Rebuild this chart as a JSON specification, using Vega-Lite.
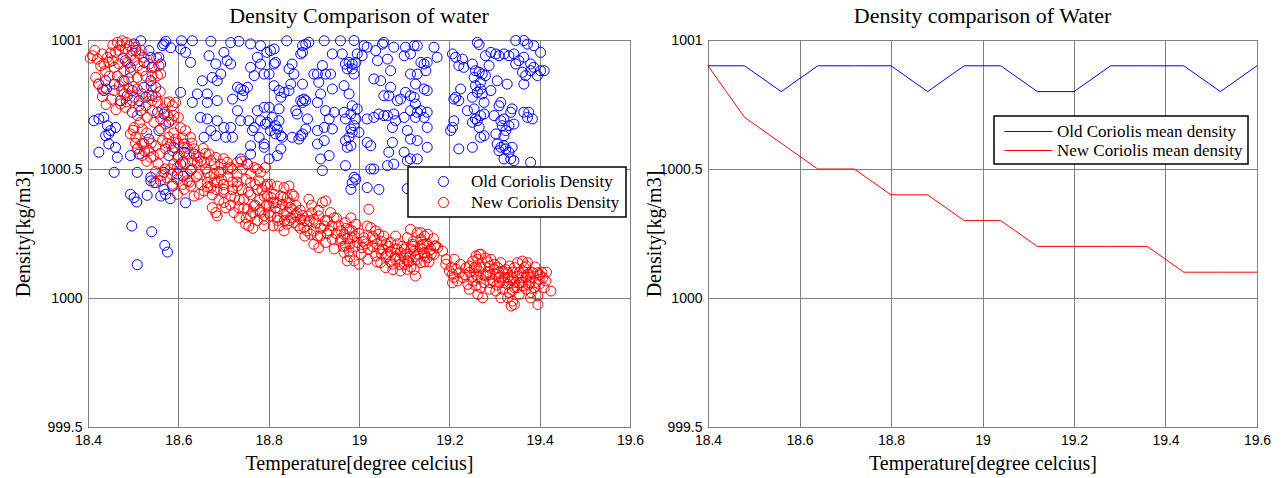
{
"$schema": "https://vega.github.io/schema/vega-lite/v6.json",
"background": "white",
"padding": {"left": 12, "top": 4, "right": 5, "bottom": 5},
"bounds": "flush",
"spacing": 78,
"resolve": {"scale": {"color": "independent"}, "legend": {"color": "independent"}},
"config": {
  "font": "Liberation Serif",
  "view": {"stroke": "black", "strokeWidth": 1},
  "axis": {"labelFont": "Liberation Sans", "labelFontSize": 14, "labelColor": "black", "titleFont": "Liberation Serif", "titleFontSize": 20, "titleFontWeight": "normal", "titleColor": "black", "gridColor": "#808080", "gridOpacity": 1, "gridWidth": 1, "domain": false, "ticks": false, "labelPadding": 6, "labelFlush": false, "labelOverlap": false},
  "title": {"font": "Liberation Serif", "fontSize": 22, "fontWeight": "normal", "color": "black", "frame": "group", "offset": 5, "anchor": "middle"},
  "legend": {"labelFont": "Liberation Serif", "labelFontSize": 17, "labelColor": "black", "labelLimit": 400, "strokeColor": "black", "strokeWidth": 1.5, "fillColor": "white", "title": null}
},
"datasets": {
"old": [
{"t":18.572,"d":1000.995},{"t":18.607,"d":1000.997},{"t":18.631,"d":1000.997},{"t":18.672,"d":1000.995},{"t":18.716,"d":1000.99},{"t":18.734,"d":1000.995},{"t":18.76,"d":1000.985},{"t":18.782,"d":1000.978},{"t":18.796,"d":1000.952},{"t":18.565,"d":1000.978},
{"t":18.568,"d":1000.985},{"t":18.583,"d":1000.97},{"t":18.605,"d":1000.965},{"t":18.616,"d":1000.952},{"t":18.627,"d":1000.913},{"t":18.535,"d":1000.959},{"t":18.539,"d":1000.933},{"t":18.557,"d":1000.933},{"t":18.542,"d":1000.894},{"t":18.561,"d":1000.907},
{"t":18.517,"d":1000.997},{"t":18.502,"d":1000.985},{"t":18.506,"d":1000.959},{"t":18.668,"d":1000.939},{"t":18.701,"d":1000.952},{"t":18.716,"d":1000.907},{"t":18.708,"d":1000.92},{"t":18.683,"d":1000.907},{"t":18.694,"d":1000.868},{"t":18.686,"d":1000.842},
{"t":18.675,"d":1000.855},{"t":18.653,"d":1000.842},{"t":18.664,"d":1000.791},{"t":18.731,"d":1000.817},{"t":18.738,"d":1000.81},{"t":18.745,"d":1000.804},{"t":18.742,"d":1000.784},{"t":18.753,"d":1000.817},{"t":18.76,"d":1000.894},{"t":18.775,"d":1000.933},
{"t":18.782,"d":1000.907},{"t":18.768,"d":1000.862},{"t":18.79,"d":1000.868},{"t":18.72,"d":1000.771},{"t":18.686,"d":1000.765},{"t":18.664,"d":1000.758},{"t":18.642,"d":1000.791},{"t":18.631,"d":1000.758},{"t":18.605,"d":1000.797},{"t":18.731,"d":1000.726},
{"t":18.738,"d":1000.687},{"t":18.775,"d":1000.726},{"t":18.782,"d":1000.687},{"t":18.756,"d":1000.687},{"t":18.768,"d":1000.661},{"t":18.793,"d":1000.674},{"t":18.764,"d":1000.649},{"t":18.779,"d":1000.623},{"t":18.79,"d":1000.597},{"t":18.649,"d":1000.7},
{"t":18.664,"d":1000.694},{"t":18.686,"d":1000.687},{"t":18.701,"d":1000.661},{"t":18.716,"d":1000.661},{"t":18.672,"d":1000.649},{"t":18.657,"d":1000.623},{"t":18.683,"d":1000.629},{"t":18.705,"d":1000.623},{"t":18.72,"d":1000.623},{"t":18.76,"d":1000.59},
{"t":18.76,"d":1000.558},{"t":18.79,"d":1000.584},{"t":18.738,"d":1000.539},{"t":18.753,"d":1000.519},{"t":18.413,"d":1000.687},{"t":18.424,"d":1000.694},{"t":18.435,"d":1000.7},{"t":18.443,"d":1000.668},{"t":18.45,"d":1000.649},{"t":18.461,"d":1000.661},
{"t":18.446,"d":1000.636},{"t":18.439,"d":1000.629},{"t":18.472,"d":1000.765},{"t":18.487,"d":1000.784},{"t":18.498,"d":1000.804},{"t":18.513,"d":1000.765},{"t":18.528,"d":1000.778},{"t":18.542,"d":1000.784},{"t":18.524,"d":1000.817},{"t":18.55,"d":1000.817},
{"t":18.424,"d":1000.565},{"t":18.446,"d":1000.597},{"t":18.461,"d":1000.584},{"t":18.465,"d":1000.545},{"t":18.494,"d":1000.552},{"t":18.513,"d":1000.558},{"t":18.435,"d":1000.804},{"t":18.458,"d":1000.829},{"t":18.439,"d":1000.842},{"t":18.48,"d":1000.842},
{"t":18.498,"d":1000.72},{"t":18.517,"d":1000.726},{"t":18.554,"d":1000.72},{"t":18.568,"d":1000.713},{"t":18.579,"d":1000.681},{"t":18.557,"d":1000.649},{"t":18.535,"d":1000.616},{"t":18.579,"d":1000.552},{"t":18.59,"d":1000.584},{"t":18.613,"d":1000.597},
{"t":18.613,"d":1000.565},{"t":18.635,"d":1000.558},{"t":18.605,"d":1000.519},{"t":18.627,"d":1000.494},{"t":18.611,"d":1000.472},{"t":18.458,"d":1000.487},{"t":18.509,"d":1000.487},{"t":18.539,"d":1000.468},{"t":18.568,"d":1000.487},{"t":18.598,"d":1000.481},
{"t":18.483,"d":1000.92},{"t":18.494,"d":1000.894},{"t":18.524,"d":1000.913},{"t":18.539,"d":1000.842},{"t":18.441,"d":1000.81},
{"t":18.494,"d":1000.402},{"t":18.502,"d":1000.389},{"t":18.508,"d":1000.372},{"t":18.531,"d":1000.398},{"t":18.561,"d":1000.395},{"t":18.572,"d":1000.402},{"t":18.582,"d":1000.385},{"t":18.616,"d":1000.369},{"t":18.568,"d":1000.421},{"t":18.55,"d":1000.447},
{"t":18.539,"d":1000.454},{"t":18.587,"d":1000.434},{"t":18.497,"d":1000.279},{"t":18.541,"d":1000.257},{"t":18.57,"d":1000.204},{"t":18.576,"d":1000.178},{"t":18.509,"d":1000.129},
{"t":18.84,"d":1000.997},{"t":18.875,"d":1000.978},{"t":18.882,"d":1000.984},{"t":18.889,"d":1000.991},{"t":18.923,"d":1000.997},{"t":18.959,"d":1000.997},{"t":18.989,"d":1000.998},{"t":19.011,"d":1000.978},{"t":19.018,"d":1000.972},{"t":19.052,"d":1000.984},
{"t":19.055,"d":1000.991},{"t":19.077,"d":1000.972},{"t":19.103,"d":1000.972},{"t":19.122,"d":1000.978},{"t":19.129,"d":1000.978},{"t":19.166,"d":1000.972},{"t":19.114,"d":1000.946},{"t":19.137,"d":1000.913},{"t":19.144,"d":1000.907},{"t":19.151,"d":1000.913},
{"t":19.173,"d":1000.933},{"t":19.148,"d":1000.881},{"t":19.129,"d":1000.868},{"t":18.804,"d":1000.959},{"t":18.812,"d":1000.965},{"t":18.871,"d":1000.946},{"t":18.875,"d":1000.952},{"t":18.941,"d":1000.946},{"t":18.963,"d":1000.946},{"t":18.996,"d":1000.946},
{"t":19.007,"d":1000.939},{"t":19.037,"d":1000.959},{"t":19.041,"d":1000.92},{"t":19.063,"d":1000.926},{"t":19.1,"d":1000.939},{"t":18.815,"d":1000.913},{"t":18.812,"d":1000.907},{"t":18.852,"d":1000.907},{"t":18.845,"d":1000.888},{"t":18.856,"d":1000.868},
{"t":18.801,"d":1000.868},{"t":18.875,"d":1000.829},{"t":18.919,"d":1000.901},{"t":18.908,"d":1000.868},{"t":18.926,"d":1000.868},{"t":18.937,"d":1000.868},{"t":18.911,"d":1000.836},{"t":18.9,"d":1000.868},{"t":18.97,"d":1000.907},{"t":18.978,"d":1000.913},
{"t":18.985,"d":1000.907},{"t":18.993,"d":1000.913},{"t":18.974,"d":1000.888},{"t":18.985,"d":1000.888},{"t":18.989,"d":1000.868},{"t":19.033,"d":1000.849},{"t":19.048,"d":1000.842},{"t":19.07,"d":1000.881},{"t":19.07,"d":1000.817},{"t":19.055,"d":1000.784},
{"t":19.066,"d":1000.784},{"t":19.085,"d":1000.765},{"t":19.092,"d":1000.771},{"t":19.103,"d":1000.797},{"t":18.967,"d":1000.823},{"t":18.941,"d":1000.81},{"t":18.978,"d":1000.791},{"t":18.915,"d":1000.791},{"t":18.908,"d":1000.758},{"t":18.878,"d":1000.771},
{"t":18.871,"d":1000.765},{"t":19.114,"d":1000.784},{"t":19.122,"d":1000.778},{"t":19.125,"d":1000.752},{"t":19.151,"d":1000.804},{"t":19.144,"d":1000.81},{"t":19.125,"d":1000.829},{"t":19.114,"d":1000.868},{"t":18.812,"d":1000.823},{"t":18.823,"d":1000.804},
{"t":18.834,"d":1000.797},{"t":18.845,"d":1000.804},{"t":18.849,"d":1000.829},{"t":18.827,"d":1000.778},{"t":18.875,"d":1000.758},{"t":18.882,"d":1000.765},{"t":18.86,"d":1000.726},{"t":18.863,"d":1000.713},{"t":18.886,"d":1000.694},{"t":18.926,"d":1000.726},
{"t":18.945,"d":1000.72},{"t":18.934,"d":1000.694},{"t":18.967,"d":1000.72},{"t":18.982,"d":1000.713},{"t":18.985,"d":1000.745},{"t":18.996,"d":1000.733},{"t":18.97,"d":1000.694},{"t":18.993,"d":1000.694},{"t":18.79,"d":1000.739},{"t":18.801,"d":1000.739},
{"t":18.823,"d":1000.733},{"t":18.808,"d":1000.7},{"t":18.797,"d":1000.681},{"t":18.815,"d":1000.668},{"t":18.823,"d":1000.687},{"t":18.819,"d":1000.655},{"t":18.804,"d":1000.649},{"t":18.815,"d":1000.636},{"t":18.827,"d":1000.629},{"t":18.83,"d":1000.623},
{"t":18.852,"d":1000.623},{"t":18.871,"d":1000.629},{"t":18.875,"d":1000.636},{"t":18.867,"d":1000.616},{"t":18.882,"d":1000.655},{"t":18.908,"d":1000.649},{"t":18.923,"d":1000.661},{"t":18.941,"d":1000.655},{"t":18.989,"d":1000.668},{"t":18.982,"d":1000.655},
{"t":18.985,"d":1000.642},{"t":18.978,"d":1000.623},{"t":18.97,"d":1000.61},{"t":18.982,"d":1000.59},{"t":18.974,"d":1000.584},{"t":19.0,"d":1000.642},{"t":19.018,"d":1000.694},{"t":19.033,"d":1000.7},{"t":19.044,"d":1000.713},{"t":19.055,"d":1000.707},
{"t":19.063,"d":1000.707},{"t":19.077,"d":1000.713},{"t":19.081,"d":1000.687},{"t":19.1,"d":1000.7},{"t":19.114,"d":1000.726},{"t":19.129,"d":1000.72},{"t":19.137,"d":1000.726},{"t":19.151,"d":1000.72},{"t":19.144,"d":1000.7},{"t":19.151,"d":1000.661},
{"t":19.125,"d":1000.7},{"t":18.908,"d":1000.597},{"t":18.923,"d":1000.61},{"t":19.018,"d":1000.603},{"t":19.026,"d":1000.59},{"t":19.074,"d":1000.661},{"t":19.074,"d":1000.603},{"t":19.107,"d":1000.649},{"t":19.114,"d":1000.616},{"t":19.129,"d":1000.61},
{"t":19.151,"d":1000.584},{"t":19.1,"d":1000.565},{"t":19.066,"d":1000.565},{"t":19.114,"d":1000.539},{"t":19.129,"d":1000.539},{"t":19.107,"d":1000.532},{"t":19.077,"d":1000.519},{"t":19.063,"d":1000.513},{"t":19.033,"d":1000.5},{"t":19.026,"d":1000.5},
{"t":18.97,"d":1000.513},{"t":18.989,"d":1000.468},{"t":18.919,"d":1000.494},{"t":18.915,"d":1000.539},{"t":18.934,"d":1000.552},{"t":18.827,"d":1000.578},{"t":18.819,"d":1000.552},{"t":18.801,"d":1000.539},
{"t":18.982,"d":1000.421},{"t":18.985,"d":1000.447},{"t":18.993,"d":1000.46},{"t":19.018,"d":1000.428},{"t":19.044,"d":1000.421},{"t":19.107,"d":1000.424},
{"t":19.262,"d":1000.991},{"t":19.266,"d":1000.982},{"t":19.347,"d":1000.998},{"t":19.365,"d":1000.998},{"t":19.373,"d":1000.984},{"t":19.387,"d":1000.978},{"t":19.402,"d":1000.952},{"t":19.207,"d":1000.946},{"t":19.214,"d":1000.933},{"t":19.229,"d":1000.926},
{"t":19.221,"d":1000.901},{"t":19.232,"d":1000.894},{"t":19.28,"d":1000.939},{"t":19.292,"d":1000.952},{"t":19.303,"d":1000.946},{"t":19.31,"d":1000.939},{"t":19.321,"d":1000.946},{"t":19.332,"d":1000.939},{"t":19.343,"d":1000.946},{"t":19.354,"d":1000.92},
{"t":19.347,"d":1000.907},{"t":19.365,"d":1000.933},{"t":19.38,"d":1000.907},{"t":19.387,"d":1000.894},{"t":19.402,"d":1000.881},{"t":19.41,"d":1000.881},{"t":19.395,"d":1000.862},{"t":19.251,"d":1000.907},{"t":19.258,"d":1000.881},{"t":19.266,"d":1000.875},
{"t":19.255,"d":1000.855},{"t":19.273,"d":1000.868},{"t":19.269,"d":1000.836},{"t":19.28,"d":1000.862},{"t":19.288,"d":1000.901},{"t":19.362,"d":1000.875},{"t":19.369,"d":1000.862},{"t":19.38,"d":1000.881},{"t":19.365,"d":1000.829},{"t":19.306,"d":1000.842},
{"t":19.328,"d":1000.829},{"t":19.225,"d":1000.81},{"t":19.214,"d":1000.778},{"t":19.221,"d":1000.765},{"t":19.21,"d":1000.771},{"t":19.258,"d":1000.823},{"t":19.269,"d":1000.81},{"t":19.262,"d":1000.797},{"t":19.273,"d":1000.791},{"t":19.277,"d":1000.758},
{"t":19.292,"d":1000.804},{"t":19.251,"d":1000.778},{"t":19.314,"d":1000.758},{"t":19.31,"d":1000.745},{"t":19.336,"d":1000.72},{"t":19.339,"d":1000.733},{"t":19.365,"d":1000.72},{"t":19.376,"d":1000.72},{"t":19.373,"d":1000.7},{"t":19.384,"d":1000.694},
{"t":19.24,"d":1000.726},{"t":19.255,"d":1000.733},{"t":19.258,"d":1000.694},{"t":19.269,"d":1000.707},{"t":19.277,"d":1000.713},{"t":19.262,"d":1000.687},{"t":19.251,"d":1000.681},{"t":19.266,"d":1000.661},{"t":19.269,"d":1000.623},{"t":19.277,"d":1000.629},
{"t":19.299,"d":1000.707},{"t":19.314,"d":1000.687},{"t":19.321,"d":1000.694},{"t":19.317,"d":1000.668},{"t":19.332,"d":1000.668},{"t":19.343,"d":1000.674},{"t":19.325,"d":1000.649},{"t":19.303,"d":1000.636},{"t":19.321,"d":1000.629},{"t":19.21,"d":1000.687},
{"t":19.207,"d":1000.661},{"t":19.203,"d":1000.649},{"t":19.221,"d":1000.578},{"t":19.251,"d":1000.584},{"t":19.306,"d":1000.597},{"t":19.314,"d":1000.584},{"t":19.31,"d":1000.571},{"t":19.325,"d":1000.578},{"t":19.332,"d":1000.565},{"t":19.339,"d":1000.584},
{"t":19.321,"d":1000.539},{"t":19.336,"d":1000.539},{"t":19.343,"d":1000.532},{"t":19.38,"d":1000.526},{"t":19.321,"d":1000.59}
],
"new": [
{"t":18.41,"d":1000.939},{"t":18.421,"d":1000.926},{"t":18.432,"d":1000.946},{"t":18.443,"d":1000.933},{"t":18.454,"d":1000.92},{"t":18.461,"d":1000.952},{"t":18.465,"d":1000.991},{"t":18.472,"d":1000.978},{"t":18.476,"d":1000.997},{"t":18.483,"d":1000.965},
{"t":18.491,"d":1000.978},{"t":18.498,"d":1000.959},{"t":18.506,"d":1000.972},{"t":18.513,"d":1000.946},{"t":18.502,"d":1000.92},{"t":18.487,"d":1000.913},{"t":18.469,"d":1000.907},{"t":18.458,"d":1000.894},{"t":18.446,"d":1000.913},{"t":18.435,"d":1000.907},
{"t":18.417,"d":1000.855},{"t":18.524,"d":1000.933},{"t":18.535,"d":1000.907},{"t":18.546,"d":1000.894},{"t":18.52,"d":1000.881},{"t":18.48,"d":1000.881},{"t":18.494,"d":1000.875},{"t":18.509,"d":1000.855},{"t":18.542,"d":1000.862},{"t":18.554,"d":1000.862},
{"t":18.561,"d":1000.868},{"t":18.424,"d":1000.829},{"t":18.432,"d":1000.81},{"t":18.476,"d":1000.842},{"t":18.458,"d":1000.804},{"t":18.469,"d":1000.823},{"t":18.48,"d":1000.791},{"t":18.491,"d":1000.81},{"t":18.509,"d":1000.81},{"t":18.52,"d":1000.791},
{"t":18.502,"d":1000.778},{"t":18.472,"d":1000.752},{"t":18.483,"d":1000.739},{"t":18.498,"d":1000.765},{"t":18.513,"d":1000.745},{"t":18.535,"d":1000.784},{"t":18.542,"d":1000.765},{"t":18.528,"d":1000.745},{"t":18.554,"d":1000.758},{"t":18.572,"d":1000.758},
{"t":18.587,"d":1000.745},{"t":18.594,"d":1000.758},{"t":18.565,"d":1000.733},{"t":18.542,"d":1000.726},{"t":18.531,"d":1000.7},{"t":18.546,"d":1000.681},{"t":18.561,"d":1000.694},{"t":18.576,"d":1000.707},{"t":18.59,"d":1000.707},{"t":18.572,"d":1000.674},
{"t":18.561,"d":1000.655},{"t":18.509,"d":1000.707},{"t":18.502,"d":1000.661},{"t":18.494,"d":1000.636},{"t":18.506,"d":1000.623},{"t":18.52,"d":1000.655},{"t":18.524,"d":1000.597},{"t":18.509,"d":1000.578},{"t":18.52,"d":1000.552},{"t":18.535,"d":1000.571},
{"t":18.539,"d":1000.545},{"t":18.55,"d":1000.59},{"t":18.565,"d":1000.61},{"t":18.579,"d":1000.623},{"t":18.583,"d":1000.597},{"t":18.594,"d":1000.616},{"t":18.572,"d":1000.578},{"t":18.587,"d":1000.571},{"t":18.598,"d":1000.545},{"t":18.616,"d":1000.649},
{"t":18.627,"d":1000.623},{"t":18.613,"d":1000.584},{"t":18.624,"d":1000.558},{"t":18.609,"d":1000.526},{"t":18.631,"d":1000.532},{"t":18.642,"d":1000.526},{"t":18.635,"d":1000.578},{"t":18.646,"d":1000.545},{"t":18.657,"d":1000.526},{"t":18.668,"d":1000.558},
{"t":18.672,"d":1000.532},{"t":18.683,"d":1000.545},{"t":18.694,"d":1000.519},{"t":18.708,"d":1000.526},{"t":18.716,"d":1000.506},{"t":18.731,"d":1000.526},{"t":18.742,"d":1000.5},{"t":18.753,"d":1000.519},{"t":18.768,"d":1000.506},{"t":18.775,"d":1000.5},
{"t":18.76,"d":1000.481},{"t":18.782,"d":1000.487},{"t":18.793,"d":1000.506},{"t":18.664,"d":1000.487},{"t":18.679,"d":1000.481},{"t":18.694,"d":1000.487},{"t":18.62,"d":1000.481},{"t":18.598,"d":1000.506},{"t":18.583,"d":1000.5},{"t":18.552,"d":1000.93},
{"t":18.557,"d":1000.9},{"t":18.423,"d":1000.83},{"t":18.432,"d":1000.78},{"t":18.44,"d":1000.75},{"t":18.447,"d":1000.86},{"t":18.452,"d":1000.77},{"t":18.462,"d":1000.73},{"t":18.505,"d":1000.6},{"t":18.51,"d":1000.58},{"t":18.52,"d":1000.6},
{"t":18.525,"d":1000.57},{"t":18.53,"d":1000.53},{"t":18.545,"d":1000.55},{"t":18.555,"d":1000.52},{"t":18.5,"d":1000.65},{"t":18.515,"d":1000.68},{"t":18.53,"d":1000.64},{"t":18.563,"d":1000.475},{"t":18.575,"d":1000.465},{"t":18.585,"d":1000.48},
{"t":18.546,"d":1000.447},{"t":18.561,"d":1000.454},{"t":18.587,"d":1000.441},{"t":18.598,"d":1000.402},{"t":18.613,"d":1000.421},{"t":18.627,"d":1000.434},{"t":18.635,"d":1000.395},{"t":18.646,"d":1000.402},{"t":18.657,"d":1000.415},{"t":18.664,"d":1000.447},
{"t":18.672,"d":1000.428},{"t":18.675,"d":1000.35},{"t":18.683,"d":1000.331},{"t":18.686,"d":1000.318},{"t":18.701,"d":1000.37},{"t":18.716,"d":1000.395},{"t":18.723,"d":1000.331},{"t":18.734,"d":1000.35},{"t":18.745,"d":1000.383},{"t":18.753,"d":1000.344},
{"t":18.76,"d":1000.318},{"t":18.768,"d":1000.357},{"t":18.782,"d":1000.331},{"t":18.79,"d":1000.305},{"t":18.749,"d":1000.286},{"t":18.756,"d":1000.279},{"t":18.775,"d":1000.421},{"t":18.79,"d":1000.395},{"t":18.686,"d":1000.447},{"t":18.701,"d":1000.421},
{"t":18.731,"d":1000.434},{"t":18.76,"d":1000.447},{"t":18.779,"d":1000.454},{"t":18.797,"d":1000.441},{"t":18.598,"d":1000.46},{"t":18.62,"d":1000.454},
{"t":18.66,"d":1000.5},{"t":18.67,"d":1000.47},{"t":18.68,"d":1000.45},{"t":18.69,"d":1000.49},{"t":18.7,"d":1000.44},{"t":18.71,"d":1000.47},{"t":18.72,"d":1000.45},{"t":18.73,"d":1000.48},{"t":18.74,"d":1000.42},{"t":18.75,"d":1000.46},
{"t":18.76,"d":1000.4},{"t":18.77,"d":1000.44},{"t":18.78,"d":1000.38},{"t":18.785,"d":1000.42},{"t":18.795,"d":1000.36},{"t":18.7,"d":1000.41},{"t":18.715,"d":1000.36},{"t":18.725,"d":1000.39},{"t":18.745,"d":1000.35},{"t":18.765,"d":1000.33},
{"t":18.775,"d":1000.3},{"t":18.66,"d":1000.56},{"t":18.68,"d":1000.52},{"t":18.7,"d":1000.54},{"t":18.72,"d":1000.5},{"t":18.74,"d":1000.53},{"t":18.645,"d":1000.48},{"t":18.65,"d":1000.44},
{"t":18.793,"d":1000.434},{"t":18.804,"d":1000.441},{"t":18.819,"d":1000.434},{"t":18.834,"d":1000.428},{"t":18.845,"d":1000.434},{"t":18.797,"d":1000.395},{"t":18.812,"d":1000.402},{"t":18.827,"d":1000.395},{"t":18.841,"d":1000.389},{"t":18.856,"d":1000.395},
{"t":18.801,"d":1000.357},{"t":18.815,"d":1000.35},{"t":18.83,"d":1000.363},{"t":18.845,"d":1000.37},{"t":18.852,"d":1000.344},{"t":18.804,"d":1000.318},{"t":18.819,"d":1000.311},{"t":18.834,"d":1000.324},{"t":18.849,"d":1000.311},{"t":18.863,"d":1000.331},
{"t":18.823,"d":1000.279},{"t":18.834,"d":1000.26},{"t":18.841,"d":1000.286},{"t":18.856,"d":1000.292},{"t":18.871,"d":1000.305},{"t":18.886,"d":1000.318},{"t":18.889,"d":1000.383},{"t":18.852,"d":1000.402},{"t":18.9,"d":1000.305},{"t":18.911,"d":1000.318},
{"t":18.919,"d":1000.37},{"t":18.926,"d":1000.376},{"t":18.937,"d":1000.331},{"t":18.945,"d":1000.311},{"t":18.923,"d":1000.279},{"t":18.934,"d":1000.26},{"t":18.941,"d":1000.228},{"t":18.9,"d":1000.208},{"t":18.911,"d":1000.195},{"t":18.926,"d":1000.215},
{"t":18.893,"d":1000.247},{"t":18.878,"d":1000.273},{"t":18.908,"d":1000.24},{"t":18.97,"d":1000.292},{"t":18.982,"d":1000.311},{"t":18.993,"d":1000.286},{"t":18.978,"d":1000.266},{"t":18.967,"d":1000.247},{"t":18.985,"d":1000.234},{"t":18.996,"d":1000.215},
{"t":18.97,"d":1000.202},{"t":18.978,"d":1000.182},{"t":18.967,"d":1000.176},{"t":18.974,"d":1000.144},{"t":18.989,"d":1000.144},{"t":19.0,"d":1000.131},{"t":18.959,"d":1000.221},{"t":19.011,"d":1000.234},{"t":19.007,"d":1000.195},{"t":19.018,"d":1000.279},
{"t":19.026,"d":1000.273},{"t":19.022,"d":1000.344},{"t":19.037,"d":1000.26},{"t":19.044,"d":1000.247},{"t":19.055,"d":1000.24},{"t":19.07,"d":1000.215},{"t":19.081,"d":1000.24},{"t":19.037,"d":1000.163},{"t":19.052,"d":1000.189},{"t":19.063,"d":1000.169},
{"t":19.048,"d":1000.137},{"t":19.059,"d":1000.118},{"t":19.074,"d":1000.131},{"t":19.081,"d":1000.15},{"t":19.085,"d":1000.189},{"t":19.092,"d":1000.176},{"t":19.1,"d":1000.156},{"t":19.107,"d":1000.144},{"t":19.114,"d":1000.163},{"t":19.122,"d":1000.182},
{"t":19.129,"d":1000.15},{"t":19.137,"d":1000.137},{"t":19.144,"d":1000.176},{"t":19.151,"d":1000.156},{"t":19.159,"d":1000.189},{"t":19.166,"d":1000.169},{"t":19.17,"d":1000.202},{"t":19.122,"d":1000.111},{"t":19.125,"d":1000.085},{"t":19.107,"d":1000.111},
{"t":19.092,"d":1000.105},{"t":19.114,"d":1000.266},{"t":19.129,"d":1000.253},{"t":19.107,"d":1000.234},{"t":19.137,"d":1000.228},{"t":19.144,"d":1000.208},{"t":19.118,"d":1000.208},{"t":19.192,"d":1000.131},
{"t":18.81,"d":1000.37},{"t":18.825,"d":1000.345},{"t":18.84,"d":1000.33},{"t":18.86,"d":1000.36},{"t":18.87,"d":1000.34},{"t":18.88,"d":1000.3},{"t":18.895,"d":1000.33},{"t":18.865,"d":1000.28},{"t":18.845,"d":1000.3},{"t":18.82,"d":1000.3},
{"t":18.8,"d":1000.33},{"t":18.885,"d":1000.26},{"t":18.905,"d":1000.29},{"t":18.915,"d":1000.27},{"t":18.93,"d":1000.3},{"t":18.95,"d":1000.25},{"t":18.955,"d":1000.28},
{"t":18.96,"d":1000.26},{"t":18.975,"d":1000.23},{"t":18.985,"d":1000.26},{"t":18.99,"d":1000.2},{"t":19.0,"d":1000.25},{"t":19.005,"d":1000.17},{"t":19.015,"d":1000.21},{"t":19.03,"d":1000.2},{"t":19.035,"d":1000.23},{"t":19.045,"d":1000.19},
{"t":18.965,"d":1000.2},{"t":18.98,"d":1000.16},{"t":19.02,"d":1000.15},{"t":19.06,"d":1000.16},{"t":19.07,"d":1000.18},{"t":19.08,"d":1000.16},{"t":19.09,"d":1000.15},{"t":19.1,"d":1000.19},{"t":19.11,"d":1000.14},{"t":19.12,"d":1000.2},
{"t":19.13,"d":1000.17},{"t":19.14,"d":1000.19},{"t":19.15,"d":1000.21},{"t":19.155,"d":1000.14},{"t":19.1,"d":1000.13},{"t":19.085,"d":1000.21},{"t":19.065,"d":1000.2},{"t":19.12,"d":1000.22},
{"t":19.137,"d":1000.253},{"t":19.145,"d":1000.24},{"t":19.152,"d":1000.247},{"t":19.141,"d":1000.208},{"t":19.156,"d":1000.182},{"t":19.145,"d":1000.163},{"t":19.167,"d":1000.202},{"t":19.174,"d":1000.195},{"t":19.185,"d":1000.182},{"t":19.193,"d":1000.15},
{"t":19.211,"d":1000.15},{"t":19.2,"d":1000.105},{"t":19.207,"d":1000.092},{"t":19.215,"d":1000.111},{"t":19.222,"d":1000.098},{"t":19.23,"d":1000.079},{"t":19.218,"d":1000.066},{"t":19.207,"d":1000.059},{"t":19.237,"d":1000.118},{"t":19.244,"d":1000.124},
{"t":19.252,"d":1000.143},{"t":19.259,"d":1000.163},{"t":19.263,"d":1000.15},{"t":19.266,"d":1000.169},{"t":19.255,"d":1000.118},{"t":19.266,"d":1000.105},{"t":19.263,"d":1000.079},{"t":19.252,"d":1000.066},{"t":19.241,"d":1000.053},{"t":19.244,"d":1000.034},
{"t":19.259,"d":1000.047},{"t":19.27,"d":1000.04},{"t":19.277,"d":1000.059},{"t":19.281,"d":1000.085},{"t":19.289,"d":1000.124},{"t":19.292,"d":1000.15},{"t":19.3,"d":1000.131},{"t":19.307,"d":1000.118},{"t":19.314,"d":1000.137},{"t":19.318,"d":1000.105},
{"t":19.303,"d":1000.092},{"t":19.296,"d":1000.066},{"t":19.311,"d":1000.059},{"t":19.322,"d":1000.079},{"t":19.329,"d":1000.098},{"t":19.333,"d":1000.124},{"t":19.344,"d":1000.118},{"t":19.351,"d":1000.137},{"t":19.362,"d":1000.143},{"t":19.37,"d":1000.124},
{"t":19.355,"d":1000.098},{"t":19.34,"d":1000.079},{"t":19.329,"d":1000.053},{"t":19.318,"d":1000.034},{"t":19.333,"d":1000.021},{"t":19.344,"d":1000.04},{"t":19.355,"d":1000.059},{"t":19.362,"d":1000.079},{"t":19.373,"d":1000.092},{"t":19.385,"d":1000.098},
{"t":19.396,"d":1000.098},{"t":19.407,"d":1000.079},{"t":19.414,"d":1000.066},{"t":19.425,"d":1000.027},{"t":19.399,"d":1000.053},{"t":19.388,"d":1000.04},{"t":19.377,"d":1000.059},{"t":19.37,"d":1000.034},{"t":19.355,"d":1000.014},{"t":19.34,"d":999.988},
{"t":19.329,"d":1000.001},{"t":19.337,"d":999.969},{"t":19.344,"d":999.975},{"t":19.396,"d":999.975},{"t":19.303,"d":1000.027},{"t":19.289,"d":1000.034},{"t":19.274,"d":1000.001},{"t":19.263,"d":1000.014},{"t":19.314,"d":1000.001},{"t":19.373,"d":1000.137},
{"t":19.366,"d":1000.118},{"t":19.399,"d":1000.072},{"t":19.381,"d":1000.021},{"t":19.396,"d":1000.008},{"t":19.362,"d":1000.047},
{"t":19.27,"d":1000.12},{"t":19.285,"d":1000.1},{"t":19.31,"d":1000.08},{"t":19.335,"d":1000.07},{"t":19.35,"d":1000.085},{"t":19.365,"d":1000.1},{"t":19.38,"d":1000.08},{"t":19.39,"d":1000.12},{"t":19.26,"d":1000.09},{"t":19.245,"d":1000.1},
{"t":19.29,"d":1000.06},{"t":19.325,"d":1000.11},{"t":19.345,"d":1000.06},{"t":19.375,"d":1000.05},{"t":19.405,"d":1000.1},{"t":19.27,"d":1000.17},{"t":19.28,"d":1000.155},
{"t":18.405,"d":1000.93},{"t":18.415,"d":1000.96},{"t":18.428,"d":1000.9},{"t":18.438,"d":1000.88},{"t":18.45,"d":1000.95},{"t":18.455,"d":1000.98},{"t":18.468,"d":1000.96},{"t":18.478,"d":1000.93},{"t":18.485,"d":1000.99},{"t":18.495,"d":1000.94},
{"t":18.49,"d":1000.85},{"t":18.475,"d":1000.8},{"t":18.465,"d":1000.86},{"t":18.485,"d":1000.76},{"t":18.5,"d":1000.82},{"t":18.51,"d":1000.9},{"t":18.518,"d":1000.96},{"t":18.528,"d":1000.86},{"t":18.54,"d":1000.82},{"t":18.55,"d":1000.78},
{"t":18.56,"d":1000.8},{"t":18.57,"d":1000.72},{"t":18.58,"d":1000.76},{"t":18.585,"d":1000.69},{"t":18.6,"d":1000.7},{"t":18.605,"d":1000.66},{"t":18.6,"d":1000.6},{"t":18.61,"d":1000.62},{"t":18.62,"d":1000.58},{"t":18.63,"d":1000.6},
{"t":18.64,"d":1000.55},{"t":18.65,"d":1000.53},{"t":18.655,"d":1000.58},{"t":18.63,"d":1000.5},{"t":18.64,"d":1000.47},{"t":18.625,"d":1000.45},{"t":18.61,"d":1000.44},{"t":18.59,"d":1000.52},{"t":18.57,"d":1000.5},{"t":18.55,"d":1000.49},
{"t":18.54,"d":1000.6},{"t":18.56,"d":1000.56},{"t":18.575,"d":1000.6},{"t":18.59,"d":1000.64},{"t":18.6,"d":1000.55},{"t":18.615,"d":1000.52},
{"t":18.675,"d":1000.4},{"t":18.69,"d":1000.38},{"t":18.705,"d":1000.35},{"t":18.72,"d":1000.42},{"t":18.735,"d":1000.38},{"t":18.75,"d":1000.31},{"t":18.755,"d":1000.41},{"t":18.77,"d":1000.36},{"t":18.78,"d":1000.34},{"t":18.79,"d":1000.32},
{"t":18.71,"d":1000.5},{"t":18.73,"d":1000.45},{"t":18.685,"d":1000.42},{"t":18.665,"d":1000.43},{"t":18.695,"d":1000.46},{"t":18.735,"d":1000.31},{"t":18.765,"d":1000.27},{"t":18.79,"d":1000.28},
{"t":18.805,"d":1000.39},{"t":18.818,"d":1000.37},{"t":18.832,"d":1000.39},{"t":18.848,"d":1000.35},{"t":18.86,"d":1000.32},{"t":18.875,"d":1000.32},{"t":18.89,"d":1000.3},{"t":18.9,"d":1000.26},{"t":18.915,"d":1000.24},{"t":18.925,"d":1000.3},
{"t":18.94,"d":1000.28},{"t":18.95,"d":1000.31},{"t":18.96,"d":1000.23},{"t":18.972,"d":1000.27},{"t":18.98,"d":1000.21},{"t":18.99,"d":1000.24},{"t":18.88,"d":1000.24},{"t":18.87,"d":1000.27},{"t":18.835,"d":1000.3},{"t":18.81,"d":1000.28},
{"t":18.895,"d":1000.36},{"t":18.91,"d":1000.34},{"t":18.93,"d":1000.25},{"t":18.945,"d":1000.19},
{"t":19.01,"d":1000.22},{"t":19.02,"d":1000.19},{"t":19.03,"d":1000.24},{"t":19.04,"d":1000.21},{"t":19.05,"d":1000.17},{"t":19.06,"d":1000.21},{"t":19.07,"d":1000.14},{"t":19.08,"d":1000.19},{"t":19.09,"d":1000.13},{"t":19.095,"d":1000.2},
{"t":19.105,"d":1000.17},{"t":19.115,"d":1000.19},{"t":19.125,"d":1000.16},{"t":19.135,"d":1000.2},{"t":19.145,"d":1000.14},{"t":19.16,"d":1000.17},{"t":19.165,"d":1000.23},{"t":19.075,"d":1000.11},{"t":19.115,"d":1000.12},{"t":19.05,"d":1000.22},
{"t":19.04,"d":1000.14},
{"t":19.205,"d":1000.12},{"t":19.21,"d":1000.08},{"t":19.225,"d":1000.13},{"t":19.235,"d":1000.09},{"t":19.25,"d":1000.08},{"t":19.26,"d":1000.12},{"t":19.275,"d":1000.09},{"t":19.29,"d":1000.09},{"t":19.3,"d":1000.11},{"t":19.31,"d":1000.1},
{"t":19.32,"d":1000.06},{"t":19.33,"d":1000.08},{"t":19.34,"d":1000.1},{"t":19.35,"d":1000.04},{"t":19.36,"d":1000.06},{"t":19.37,"d":1000.08},{"t":19.38,"d":1000.1},{"t":19.39,"d":1000.06},{"t":19.4,"d":1000.09},{"t":19.41,"d":1000.04},
{"t":19.415,"d":1000.1},{"t":19.305,"d":1000.05},{"t":19.285,"d":1000.14},{"t":19.34,"d":1000.03},{"t":19.38,"d":1000.0}
],
"means": [
{"t":18.4,"d":1000.9,"s":"Old Coriolis mean density"},{"t":18.48,"d":1000.9,"s":"Old Coriolis mean density"},{"t":18.56,"d":1000.8,"s":"Old Coriolis mean density"},{"t":18.64,"d":1000.9,"s":"Old Coriolis mean density"},
{"t":18.72,"d":1000.9,"s":"Old Coriolis mean density"},{"t":18.8,"d":1000.9,"s":"Old Coriolis mean density"},{"t":18.88,"d":1000.8,"s":"Old Coriolis mean density"},{"t":18.96,"d":1000.9,"s":"Old Coriolis mean density"},
{"t":19.04,"d":1000.9,"s":"Old Coriolis mean density"},{"t":19.12,"d":1000.8,"s":"Old Coriolis mean density"},{"t":19.2,"d":1000.8,"s":"Old Coriolis mean density"},{"t":19.28,"d":1000.9,"s":"Old Coriolis mean density"},
{"t":19.36,"d":1000.9,"s":"Old Coriolis mean density"},{"t":19.44,"d":1000.9,"s":"Old Coriolis mean density"},{"t":19.52,"d":1000.8,"s":"Old Coriolis mean density"},{"t":19.6,"d":1000.9,"s":"Old Coriolis mean density"},
{"t":18.4,"d":1000.9,"s":"New Coriolis mean density"},{"t":18.48,"d":1000.7,"s":"New Coriolis mean density"},{"t":18.56,"d":1000.6,"s":"New Coriolis mean density"},{"t":18.64,"d":1000.5,"s":"New Coriolis mean density"},
{"t":18.72,"d":1000.5,"s":"New Coriolis mean density"},{"t":18.8,"d":1000.4,"s":"New Coriolis mean density"},{"t":18.88,"d":1000.4,"s":"New Coriolis mean density"},{"t":18.96,"d":1000.3,"s":"New Coriolis mean density"},
{"t":19.04,"d":1000.3,"s":"New Coriolis mean density"},{"t":19.12,"d":1000.2,"s":"New Coriolis mean density"},{"t":19.2,"d":1000.2,"s":"New Coriolis mean density"},{"t":19.28,"d":1000.2,"s":"New Coriolis mean density"},
{"t":19.36,"d":1000.2,"s":"New Coriolis mean density"},{"t":19.44,"d":1000.1,"s":"New Coriolis mean density"},{"t":19.52,"d":1000.1,"s":"New Coriolis mean density"},{"t":19.6,"d":1000.1,"s":"New Coriolis mean density"}
]
},
"hconcat": [
{
  "width": 542, "height": 387,
  "title": {"text": "Density Comparison of water"},
  "layer": [
    {"data": {"name": "old"},
     "mark": {"type": "point", "filled": false, "size": 100, "strokeWidth": 1, "opacity": 1},
     "encoding": {
       "x": {"field": "t", "type": "quantitative", "scale": {"domain": [18.4, 19.6], "nice": false, "zero": false}, "axis": {"values": [18.4, 18.6, 18.8, 19, 19.2, 19.4, 19.6], "format": "~r", "titlePadding": 6}, "title": "Temperature[degree celcius]"},
       "y": {"field": "d", "type": "quantitative", "scale": {"domain": [999.5, 1001], "nice": false, "zero": false}, "axis": {"values": [999.5, 1000, 1000.5, 1001], "format": "~r", "titlePadding": 6}, "title": "Density[kg/m3]"},
       "color": {"datum": "Old Coriolis Density", "type": "nominal", "scale": {"domain": ["Old Coriolis Density", "New Coriolis Density"], "range": ["#0000ff", "#ff0000"]},
                 "legend": {"orient": "none", "legendX": 320, "legendY": 127, "padding": 6, "rowPadding": 3, "symbolSize": 100, "symbolStrokeWidth": 1, "symbolOffset": 21, "labelOffset": 19, "symbolType": "circle"}}
     }},
    {"data": {"name": "new"},
     "mark": {"type": "point", "filled": false, "size": 100, "strokeWidth": 1, "opacity": 1},
     "encoding": {
       "x": {"field": "t", "type": "quantitative"},
       "y": {"field": "d", "type": "quantitative"},
       "color": {"datum": "New Coriolis Density", "type": "nominal"}
     }}
  ]
},
{
  "width": 549, "height": 387,
  "title": {"text": "Density comparison of Water"},
  "data": {"name": "means"},
  "mark": {"type": "line", "strokeWidth": 1},
  "encoding": {
    "x": {"field": "t", "type": "quantitative", "scale": {"domain": [18.4, 19.6], "nice": false, "zero": false}, "axis": {"values": [18.4, 18.6, 18.8, 19, 19.2, 19.4, 19.6], "format": "~r", "titlePadding": 6}, "title": "Temperature[degree celcius]"},
    "y": {"field": "d", "type": "quantitative", "scale": {"domain": [999.5, 1001], "nice": false, "zero": false}, "axis": {"values": [999.5, 1000, 1000.5, 1001], "format": "~r", "titlePadding": -5}, "title": "Density[kg/m3]"},
    "color": {"field": "s", "type": "nominal", "scale": {"domain": ["Old Coriolis mean density", "New Coriolis mean density"], "range": ["#0000ff", "#ff0000"]},
              "legend": {"orient": "none", "legendX": 286, "legendY": 76, "padding": 5, "rowPadding": 0, "symbolType": "M-2.4,0L2.4,0", "symbolSize": 400, "symbolStrokeWidth": 1, "symbolOffset": 19, "labelOffset": 18,
                         "encode": {"symbols": {"update": {"stroke": [{"test": "datum.value === 'Old Coriolis mean density'", "value": "#0000ff"}, {"value": "#ff0000"}], "fill": {"value": "transparent"}}}}}}
  }
}
]
}
